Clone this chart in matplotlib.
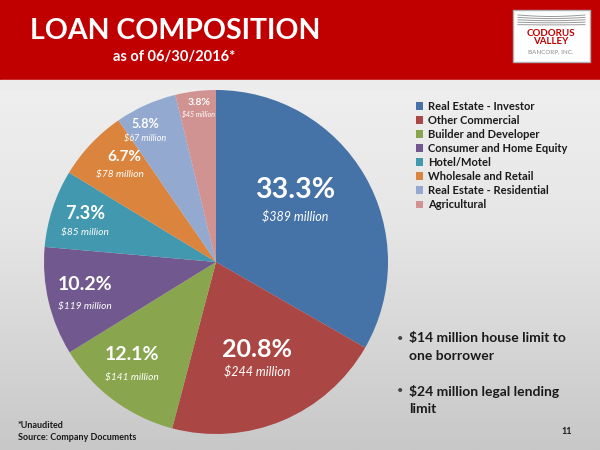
import numpy as np
import matplotlib.pyplot as plt
from matplotlib.patches import Rectangle

plt.rcParams['font.family'] = ['Lato', 'DejaVu Sans']

categories = ['Real Estate - Investor', 'Other Commercial', 'Builder and Developer',
              'Consumer and Home Equity', 'Hotel/Motel', 'Wholesale and Retail',
              'Real Estate - Residential', 'Agricultural']
shares = [33.3, 20.8, 12.1, 10.2, 7.3, 6.7, 5.8, 3.8]
amounts = [389, 244, 141, 119, 85, 78, 67, 45]
colors = ['#4572A7', '#AA4643', '#89A54E', '#71588F', '#4198AF', '#DB843D', '#93A9CF', '#D19392']
bullets = [['$14 million house limit to', 'one borrower'],
           ['$24 million legal lending', 'limit']]

# label layout (pie units): pct position, amount position, font sizes
pct_pos = [(0.46, 0.42), (0.24, -0.51), (-0.49, -0.54), (-0.76, -0.13),
           (-0.76, 0.28), (-0.53, 0.61), (-0.41, 0.80), (-0.10, 0.93)]
amt_pos = [(0.46, 0.26), (0.24, -0.64), (-0.49, -0.67), (-0.76, -0.26),
           (-0.76, 0.17), (-0.56, 0.51), (-0.41, 0.72), (-0.10, 0.86)]
pct_fs = [20.5, 18, 14, 14, 13, 11, 9, 7.5]
amt_fs = [9, 9, 7.3, 7.3, 7.3, 7.3, 6.5, 5]

W, H = 600, 450
fig = plt.figure(figsize=(6, 4.5), dpi=100)

# background (grey photo look)
bg = fig.add_axes([0, 0, 1, 1])
grad = np.linspace(0, 1, 200)[:, None] * np.ones((1, 10))
bg.imshow(grad, cmap=plt.matplotlib.colors.LinearSegmentedColormap.from_list(
    'g', ['#f4f4f4', '#e6e6e6', '#c8c8c8']), aspect='auto', extent=[0, 1, 0, 1], origin='upper')
bg.set_xlim(0, 1)
bg.set_ylim(0, 1)
bg.axis('off')

# header
bg.add_patch(Rectangle((0, 1 - 80 / H), 1, 80 / H, color='#C00000', zorder=2))
bg.add_patch(Rectangle((0, 1 - 88 / H), 1, 8 / H, color='#ececec', zorder=2))
fig.text(30 / W, 1 - 31 / H, 'LOAN COMPOSITION', color='white', fontsize=20.5,
         fontweight='bold', va='center', ha='left')
fig.text(174 / W, 1 - 57 / H, 'as of 06/30/2016*', color='white', fontsize=10.5,
         fontweight='bold', va='center', ha='center')

# logo
bg.add_patch(Rectangle((513 / W, 1 - 62 / H), 77 / W, 52 / H, facecolor='white',
                       edgecolor='#b0b0b0', lw=1, zorder=3))
xs = np.linspace(518, 585, 30)
for k in range(5):
    ys = 15 + k * 2.4 + 3 * np.sin((xs - 518) / 67 * np.pi) * (0.5 - k * 0.1)
    bg.plot(xs / W, 1 - ys / H, color='#9a9a9a', lw=0.7, zorder=4)
fig.text(551 / W, 1 - 33 / H, 'CODORUS', color='#C00000', fontsize=7, fontweight='bold',
         ha='center', va='center')
fig.text(551 / W, 1 - 41.5 / H, 'VALLEY', color='#C00000', fontsize=7, fontweight='bold',
         ha='center', va='center')
fig.text(551 / W, 1 - 52 / H, 'BANCORP, INC.', color='#888888', fontsize=4.5,
         ha='center', va='center')

# pie
cx, cy, r = 216, 262, 172
ax = fig.add_axes([(cx - r) / W, (H - cy - r) / H, 2 * r / W, 2 * r / H])
wedges, _ = ax.pie(shares, colors=colors, startangle=90, counterclock=False,
                   wedgeprops=dict(linewidth=0))
ax.set_xlim(-1, 1)
ax.set_ylim(-1, 1)
ax.axis('off')

for i in range(len(shares)):
    ax.text(*pct_pos[i], f'{shares[i]:.1f}%', color='white', fontsize=pct_fs[i],
            fontweight='bold', ha='center', va='center')
    ax.text(*amt_pos[i], f'${amounts[i]} million', color='white', fontsize=amt_fs[i],
            style='italic', ha='center', va='center')

# legend
fig.legend(wedges, categories, loc='upper left', bbox_to_anchor=(410 / W, 1 - 95 / H),
           frameon=False, handlelength=0.7, handleheight=0.7, handletextpad=0.4,
           labelspacing=0.28, borderpad=0, prop=dict(weight='bold', size=8),
           labelcolor='#1a1a1a')

# bullets
yb = [338, 391]
for b, y0 in zip(bullets, yb):
    fig.text(397 / W, 1 - y0 / H, '•', fontsize=8, color='#444444', va='center')
    for j, line in enumerate(b):
        fig.text(409 / W, 1 - (y0 + 18 * j) / H, line, fontsize=10, fontweight='bold',
                 color='#1a1a1a', va='center')

# footer
fig.text(18 / W, 1 - 425 / H, '*Unaudited', fontsize=6.5, fontweight='bold', color='#1a1a1a',
         va='center')
fig.text(18 / W, 1 - 438 / H, 'Source: Company Documents', fontsize=6.5, fontweight='bold',
         color='#1a1a1a', va='center')
fig.text(567 / W, 1 - 432 / H, '11', fontsize=6.5, fontweight='bold', color='#1a1a1a',
         ha='center', va='center')

fig.savefig('out.png', dpi=100)
